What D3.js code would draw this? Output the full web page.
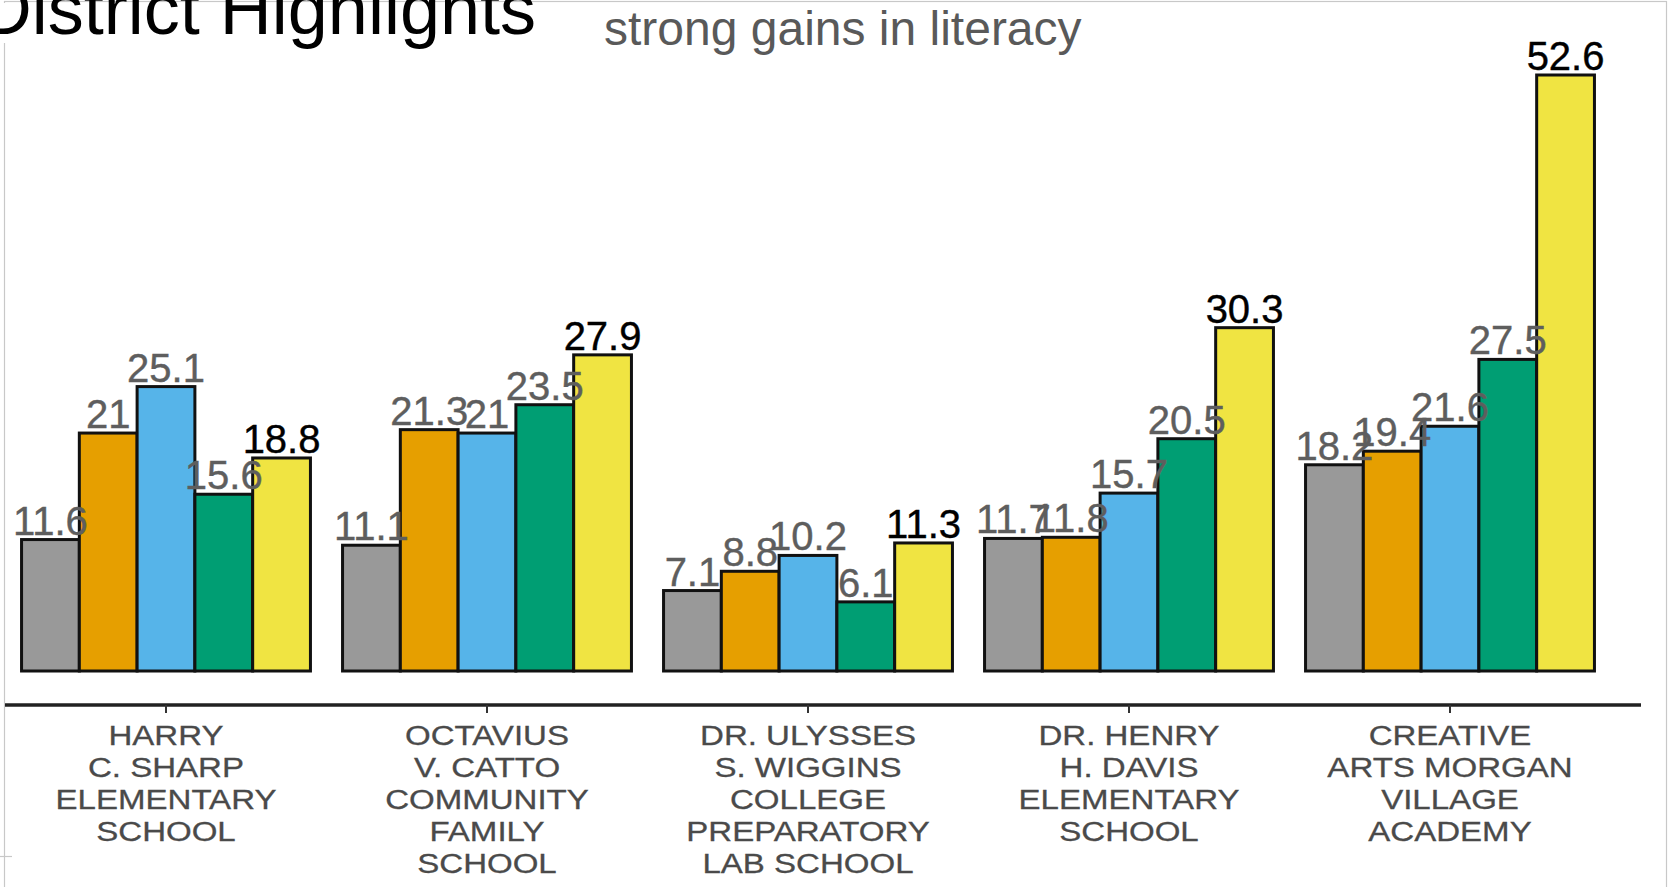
<!DOCTYPE html>
<html>
<head>
<meta charset="utf-8">
<script src="https://cdn.jsdelivr.net/npm/d3@7"></script>
<style>
  html, body { margin: 0; padding: 0; background: #fff; overflow: hidden; }
  svg { display: block; font-family: "Liberation Sans", Arial, sans-serif; }
</style>
</head>
<body>
<svg id="chart" width="1671" height="887"></svg>
<script>
// ---- data ----
const schools = [
  "HARRY C. SHARP ELEMENTARY SCHOOL",
  "OCTAVIUS V. CATTO COMMUNITY FAMILY SCHOOL",
  "DR. ULYSSES S. WIGGINS COLLEGE PREPARATORY LAB SCHOOL",
  "DR. HENRY H. DAVIS ELEMENTARY SCHOOL",
  "CREATIVE ARTS MORGAN VILLAGE ACADEMY"
];
const tickLabels = [
  ["HARRY", "C. SHARP", "ELEMENTARY", "SCHOOL"],
  ["OCTAVIUS", "V. CATTO", "COMMUNITY", "FAMILY", "SCHOOL"],
  ["DR. ULYSSES", "S. WIGGINS", "COLLEGE", "PREPARATORY", "LAB SCHOOL"],
  ["DR. HENRY", "H. DAVIS", "ELEMENTARY", "SCHOOL"],
  ["CREATIVE", "ARTS MORGAN", "VILLAGE", "ACADEMY"]
];
const seriesKeys = ["Series 1", "Series 2", "Series 3", "Series 4", "Series 5"];
const series1 = [11.6, 11.1, 7.1, 11.7, 18.2];
const series2 = [21, 21.3, 8.8, 11.8, 19.4];
const series3 = [25.1, 21, 10.2, 15.7, 21.6];
const series4 = [15.6, 23.5, 6.1, 20.5, 27.5];
const series5 = [18.8, 27.9, 11.3, 30.3, 52.6];
const seriesColors = ["#999999", "#E69F00", "#56B4E9", "#009E73", "#F0E442"];
const labelColors = ["#5e5e5e", "#5e5e5e", "#5e5e5e", "#5e5e5e", "#000000"];
const titleText = "District Highlights";
const subtitleText = "strong gains in literacy";

// ---- build table ----
const allSeries = [series1, series2, series3, series4, series5];
const rows = [];
schools.forEach((s, i) => {
  seriesKeys.forEach((k, j) => {
    rows.push({ school: s, key: k, idx: j, value: allSeries[j][i] });
  });
});

const svg = d3.select("#chart");

// frame
svg.append("rect").attr("x", 4.5).attr("y", 1.5).attr("width", 1662).attr("height", 900)
  .attr("fill", "none").attr("stroke", "#c8c8c8").attr("stroke-width", 1.2);
svg.append("line").attr("x1", 0).attr("x2", 12).attr("y1", 856.5).attr("y2", 856.5)
  .attr("stroke", "#c8c8c8").attr("stroke-width", 1.2);

// scales
const x = d3.scaleBand().domain(schools).range([5.5, 1610.5]).paddingInner(0.1).paddingOuter(0.05);
const xi = d3.scaleBand().domain(seriesKeys).range([0, x.bandwidth()]).padding(0);
const yMax = d3.max(rows, d => d.value);
const y = d3.scaleLinear().domain([0, yMax]).range([671, 75]);

// bars
const g = svg.append("g");
g.selectAll("rect.bar").data(rows).join("rect")
  .attr("class", "bar")
  .attr("x", d => x(d.school) + xi(d.key))
  .attr("y", d => y(d.value))
  .attr("width", xi.bandwidth())
  .attr("height", d => y(0) - y(d.value))
  .attr("fill", d => seriesColors[d.idx])
  .attr("stroke", "#111")
  .attr("stroke-width", 3);

// value labels
g.selectAll("text.val").data(rows).join("text")
  .attr("class", "val")
  .attr("x", d => x(d.school) + xi(d.key) + xi.bandwidth() / 2)
  .attr("y", d => y(d.value) - 5)
  .attr("text-anchor", "middle")
  .attr("font-size", 40)
  .attr("fill", d => labelColors[d.idx])
  .attr("stroke", d => labelColors[d.idx])
  .attr("stroke-width", 0.4)
  .text(d => d.value);

// axis
const axis = d3.axisBottom(x).tickSize(8).tickSizeOuter(0).tickFormat("");
const ax = svg.append("g").attr("transform", "translate(0,705)").call(axis);
ax.select(".domain").attr("d", "M5,0H1641").attr("stroke", "#222").attr("stroke-width", 3.5);
ax.selectAll(".tick line").attr("stroke", "#333").attr("stroke-width", 2);
ax.selectAll(".tick").each(function(d, i) {
  const t = d3.select(this).append("text")
    .attr("fill", "#4a4a4a")
    .attr("stroke", "#4a4a4a")
    .attr("stroke-width", 0.3)
    .attr("font-size", 28)
    .attr("text-anchor", "middle")
    .attr("transform", "scale(1.18,1)");
  tickLabels[i].forEach((line, k) => {
    t.append("tspan").attr("x", 0).attr("y", 40 + k * 32).text(line);
  });
});

// titles
svg.append("rect").attr("x", 0).attr("y", 3).attr("width", 8).attr("height", 40).attr("fill", "#fff");
svg.append("text").attr("x", 536).attr("y", 34).attr("text-anchor", "end")
  .attr("font-size", 72).attr("fill", "#000").text(titleText);
svg.append("text").attr("x", 604).attr("y", 45)
  .attr("font-size", 48).attr("fill", "#595959").text(subtitleText);
</script>
</body>
</html>
